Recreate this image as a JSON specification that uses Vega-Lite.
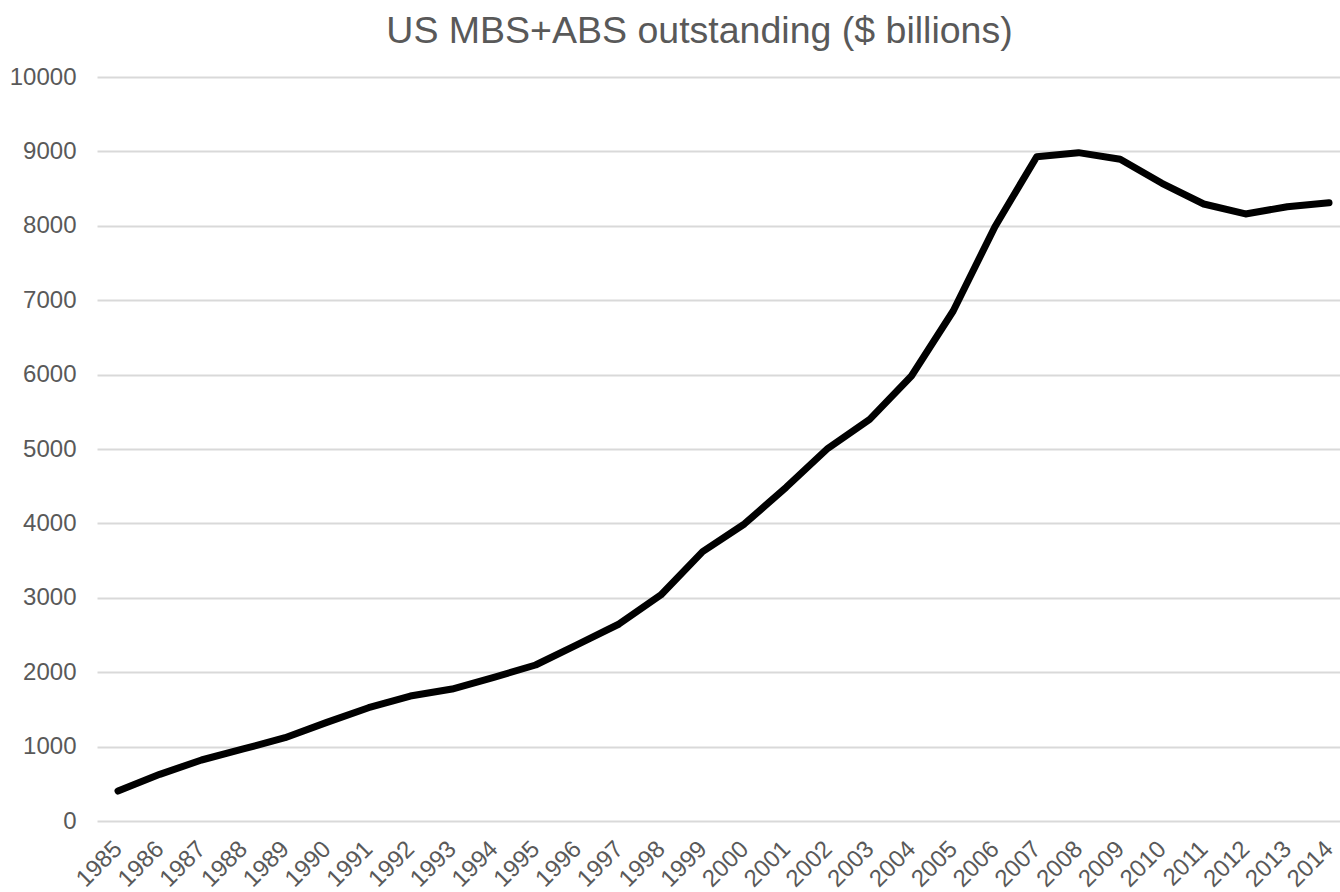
{
  "$schema": "https://vega.github.io/schema/vega-lite/v6.json",
  "autosize": {"type": "none"},
  "padding": {"left": 97, "top": 77, "right": 0, "bottom": 71},
  "width": 1243,
  "height": 744,
  "background": "white",
  "title": {
    "text": "US MBS+ABS outstanding ($ billions)",
    "anchor": "middle",
    "frame": "group",
    "dx": -19,
    "baseline": "alphabetic",
    "offset": -15,
    "font": "Liberation Sans",
    "fontSize": 37.5,
    "fontWeight": "normal",
    "color": "#595959"
  },
  "config": {
    "view": {"stroke": null},
    "axis": {"labelFont": "Liberation Sans", "labelColor": "#595959", "labelFontSize": 24}
  },
  "data": {
    "values": [
      {"year": 1985, "value": 403},
      {"year": 1986, "value": 627},
      {"year": 1987, "value": 820},
      {"year": 1988, "value": 968},
      {"year": 1989, "value": 1120},
      {"year": 1990, "value": 1326},
      {"year": 1991, "value": 1523},
      {"year": 1992, "value": 1680},
      {"year": 1993, "value": 1774},
      {"year": 1994, "value": 1931},
      {"year": 1995, "value": 2097},
      {"year": 1996, "value": 2370},
      {"year": 1997, "value": 2648},
      {"year": 1998, "value": 3038},
      {"year": 1999, "value": 3620},
      {"year": 2000, "value": 3992},
      {"year": 2001, "value": 4485},
      {"year": 2002, "value": 5010},
      {"year": 2003, "value": 5399},
      {"year": 2004, "value": 5981},
      {"year": 2005, "value": 6855},
      {"year": 2006, "value": 7988},
      {"year": 2007, "value": 8929},
      {"year": 2008, "value": 8983},
      {"year": 2009, "value": 8894},
      {"year": 2010, "value": 8571},
      {"year": 2011, "value": 8293},
      {"year": 2012, "value": 8159},
      {"year": 2013, "value": 8257},
      {"year": 2014, "value": 8310}
    ]
  },
  "mark": {"type": "line", "color": "#000000", "strokeWidth": 7, "strokeCap": "round", "strokeJoin": "round", "clip": false},
  "encoding": {
    "x": {
      "field": "year",
      "type": "quantitative",
      "scale": {"domain": [1984.497, 2014.263], "nice": false, "zero": false},
      "axis": {
        "title": null,
        "grid": false,
        "domain": false,
        "ticks": false,
        "values": [1985,1986,1987,1988,1989,1990,1991,1992,1993,1994,1995,1996,1997,1998,1999,2000,2001,2002,2003,2004,2005,2006,2007,2008,2009,2010,2011,2012,2013,2014],
        "format": "d",
        "labelAngle": -45,
        "labelAlign": "right",
        "labelBaseline": "middle",
        "labelPadding": 24,
        "labelOverlap": false,
        "labelFlush": false,
        "labelBound": false
      }
    },
    "y": {
      "field": "value",
      "type": "quantitative",
      "scale": {"domain": [0, 10000], "nice": false},
      "axis": {
        "title": null,
        "values": [0,1000,2000,3000,4000,5000,6000,7000,8000,9000,10000],
        "format": "d",
        "grid": true,
        "gridColor": "#d9d9d9",
        "gridWidth": 2,
        "domain": false,
        "ticks": false,
        "labelPadding": 21,
        "labelOverlap": false
      }
    }
  }
}
